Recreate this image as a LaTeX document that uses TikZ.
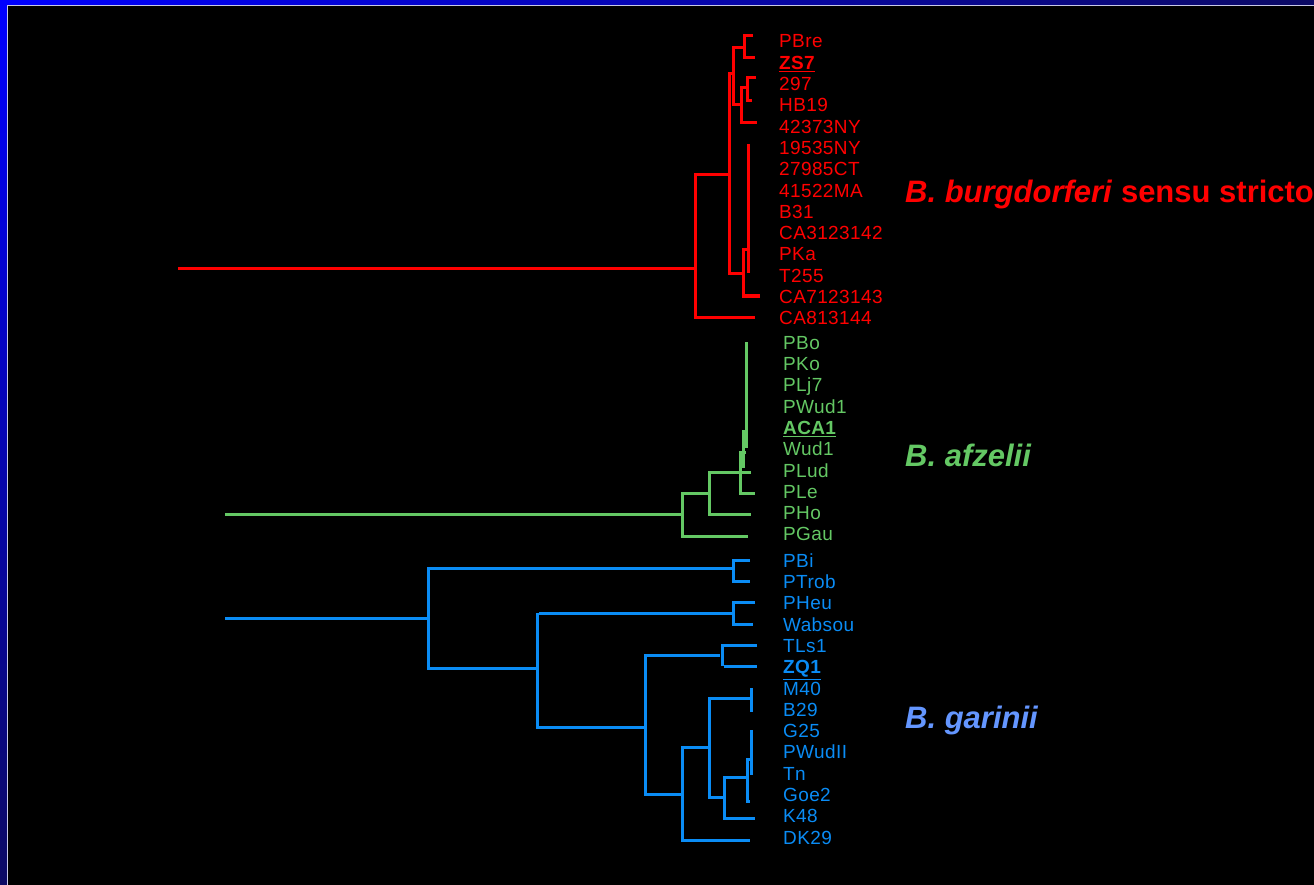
\documentclass[tikz,border=0pt]{standalone}
\usepackage{fontspec}
\setmainfont{Liberation Sans}
\definecolor{bbred}{RGB}{255,0,0}
\definecolor{bagreen}{RGB}{100,200,100}
\definecolor{bgblue}{RGB}{10,140,245}
\definecolor{bglabel}{RGB}{100,150,255}
\definecolor{framehi}{RGB}{0,0,255}
\definecolor{framelo}{RGB}{12,10,100}
\definecolor{frameline}{RGB}{200,200,230}
\tikzset{
  branch/.style={line width=3pt, line cap=butt, line join=miter},
  leaf/.style={anchor=base west, inner sep=0pt, font=\fontsize{19}{19}\selectfont\addfontfeatures{LetterSpace=2}},
  species/.style={anchor=base west, inner sep=0pt, font=\fontsize{31}{31}\selectfont\bfseries},
}
\newcommand{\ul}[1]{\underline{\textbf{#1}}}
\begin{document}
\begin{tikzpicture}[x=1pt,y=-1pt]
\clip (0,0) rectangle (1314,885);
\useasboundingbox (0,0) rectangle (1314,885);
\fill[black] (0,0) rectangle (1314,885);
% frame
\shade[left color=framehi, right color=framelo] (0,0) rectangle (1314,5);
\shade[top color=framehi, bottom color=framelo] (0,0) rectangle (7,885);
\draw[frameline, line width=1.2pt] (7.6,885) -- (7.6,5.6) -- (1314,5.6);

% ---------- red tree ----------
\begin{scope}[bbred, branch]
\draw (178,269) -- (695,269);
\draw (755,317) -- (695,317) -- (695,175) -- (729,175);
\draw (733,74) -- (729,74) -- (729,274) -- (743,274);
\draw (744,48) -- (733,48) -- (733,105) -- (741,105);
\draw (753,36) -- (744,36) -- (744,58) -- (755,58);
\draw (747,88) -- (741,88) -- (741,123) -- (757,123);
\draw (756,78) -- (747,78) -- (747,101) -- (752,101);
\draw (748,144) -- (748,273);
\draw (749,250) -- (743,250) -- (743,296) -- (760,296);
\end{scope}

% ---------- green tree ----------
\begin{scope}[bagreen, branch]
\draw (225,514) -- (682,514);
\draw (709,493) -- (682,493) -- (682,536) -- (748,536);
\draw (751,472) -- (709,472) -- (709,514) -- (751,514);
\draw (746,342) -- (746,448);
\draw (743,430) -- (743,468);
\draw (746,452) -- (740,452) -- (740,493) -- (755,493);
\end{scope}

% ---------- blue tree ----------
\begin{scope}[bgblue, branch]
\draw (225,618) -- (428,618);
\draw (733,568) -- (428,568) -- (428,668) -- (537,668);
\draw (750,560) -- (733,560) -- (733,581) -- (750,581);
\draw (733,613) -- (539,613);
\draw (537,613) -- (537,727) -- (645,727);
\draw (755,602) -- (733,602) -- (733,624) -- (753,624);
\draw (720,655) -- (645,655) -- (645,794) -- (682,794);
\draw (757,645) -- (722,645) -- (722,666);
\draw (724,666) -- (757,666);
\draw (708,747) -- (682,747) -- (682,840) -- (750,840);
\draw (750,698) -- (709,698) -- (709,797) -- (724,797);
\draw (751,688) -- (751,712);
\draw (747,777) -- (724,777) -- (724,818) -- (755,818);
\draw (751,759) -- (747,759) -- (747,801) -- (750,801);
\draw (751,730) -- (751,775);
\end{scope}

% ---------- red labels ----------
\begin{scope}[bbred]
\node[leaf] (r1) at (779,48.0) {PBre};
\node[leaf] (r2) at (779,69.3) {\ul{ZS7}};
\node[leaf] (r3) at (779,90.6) {297};
\node[leaf] (r4) at (779,111.9) {HB19};
\node[leaf] (r5) at (779,133.2) {42373NY};
\node[leaf] (r6) at (779,154.5) {19535NY};
\node[leaf] (r7) at (779,175.8) {27985CT};
\node[leaf] (r8) at (779,197.1) {41522MA};
\node[leaf] (r9) at (779,218.4) {B31};
\node[leaf] (r10) at (779,239.7) {CA3123142};
\node[leaf] (r11) at (779,261.0) {PKa};
\node[leaf] (r12) at (779,282.3) {T255};
\node[leaf] (r13) at (779,303.6) {CA7123143};
\node[leaf] (r14) at (779,324.9) {CA813144};
\node[species] (sbb) at (905,203) {\textit{B. burgdorferi} sensu stricto};
\end{scope}

% ---------- green labels ----------
\begin{scope}[bagreen]
\node[leaf] (g1) at (783,349.2) {PBo};
\node[leaf] (g2) at (783,370.5) {PKo};
\node[leaf] (g3) at (783,391.8) {PLj7};
\node[leaf] (g4) at (783,413.1) {PWud1};
\node[leaf] (g5) at (783,434.4) {\ul{ACA1}};
\node[leaf] (g6) at (783,455.7) {Wud1};
\node[leaf] (g7) at (783,477.0) {PLud};
\node[leaf] (g8) at (783,498.3) {PLe};
\node[leaf] (g9) at (783,519.6) {PHo};
\node[leaf] (g10) at (783,540.9) {PGau};
\node[species] (saf) at (905,466) {\textit{B. afzelii}};
\end{scope}

% ---------- blue labels ----------
\begin{scope}[bgblue]
\node[leaf] (b1) at (783,567.2) {PBi};
\node[leaf] (b2) at (783,588.5) {PTrob};
\node[leaf] (b3) at (783,609.8) {PHeu};
\node[leaf] (b4) at (783,631.1) {Wabsou};
\node[leaf] (b5) at (783,652.4) {TLs1};
\node[leaf] (b6) at (783,673.7) {\ul{ZQ1}};
\node[leaf] (b7) at (783,695.0) {M40};
\node[leaf] (b8) at (783,716.3) {B29};
\node[leaf] (b9) at (783,737.6) {G25};
\node[leaf] (b10) at (783,758.9) {PWudII};
\node[leaf] (b11) at (783,780.2) {Tn};
\node[leaf] (b12) at (783,801.5) {Goe2};
\node[leaf] (b13) at (783,822.8) {K48};
\node[leaf] (b14) at (783,844.1) {DK29};
\end{scope}
\node[species, bglabel] (sga) at (905,728) {\textit{B. garinii}};
\end{tikzpicture}
\end{document}
